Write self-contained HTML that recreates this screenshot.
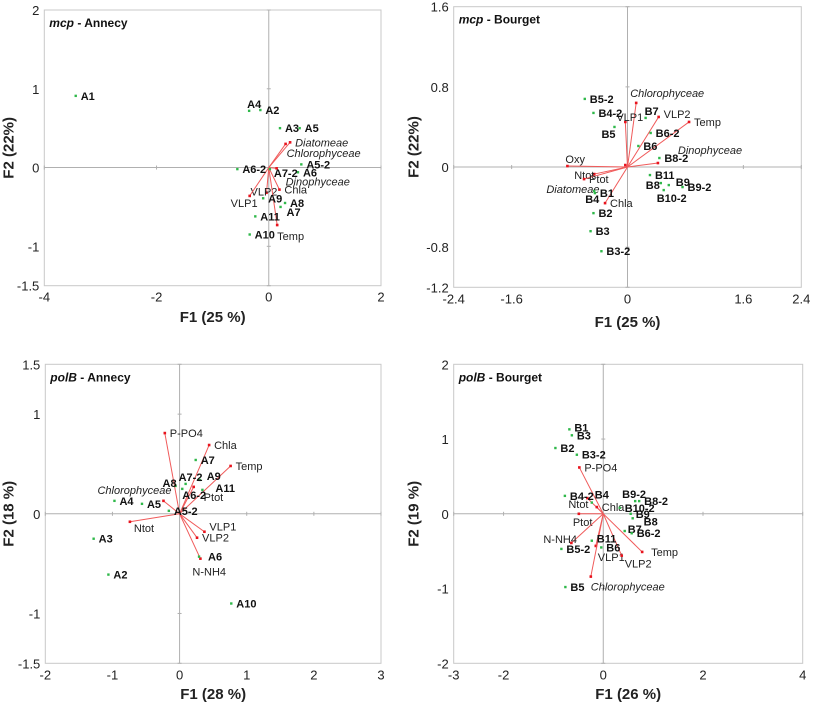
<!DOCTYPE html>
<html><head><meta charset="utf-8"><style>
html,body{margin:0;padding:0;background:#fff;}
svg{display:block;font-family:"Liberation Sans",sans-serif;}
</style></head><body>
<svg id="chart" width="813" height="704" viewBox="0 0 813 704" xmlns="http://www.w3.org/2000/svg"></svg>
<script>
// ---- Panel 1: mcp - Annecy ----
const p1SampleNames = ["A1","A4","A2","A3","A5","A5-2","A6","A6-2","A7-2","A9","A8","A7","A11","A10"];
const p1SampleX = [-3.44,-0.35,-0.15,0.2,0.55,0.58,0.52,-0.56,0.02,-0.1,0.29,0.21,-0.24,-0.34];
const p1SampleY = [0.91,0.72,0.73,0.5,0.5,0.04,-0.06,-0.02,-0.02,-0.39,-0.45,-0.5,-0.62,-0.85];
const p1VarNames = ["Diatomeae","Chlorophyceae","Dinophyceae","Chla","VLP2","VLP1","Temp"];
const p1VarX = [0.38,0.3,0.14,0.19,-0.04,-0.34,0.15];
const p1VarY = [0.32,0.3,-0.01,-0.28,-0.32,-0.36,-0.73];
const p1XTicks = [-4,-2,0,2];
const p1YTicks = [-1.5,-1,0,1,2];
const p1XTickLabels = ["-4","-2","0","2"];
const p1YTickLabels = ["-1.5","-1","0","1","2"];

// ---- Panel 2: mcp - Bourget ----
const p2SampleNames = ["B5-2","B4-2","B5","B7","B6-2","B6","B8-2","B11","B8","B9","B9-2","B10-2","B1","B4","B2","B3","B3-2"];
const p2SampleX = [-0.59,-0.47,-0.18,0.25,0.32,0.15,0.44,0.31,0.46,0.57,0.76,0.5,-0.45,-0.46,-0.47,-0.51,-0.36];
const p2SampleY = [0.68,0.54,0.4,0.49,0.34,0.21,0.09,-0.08,-0.16,-0.18,-0.2,-0.23,-0.26,-0.24,-0.46,-0.64,-0.84];
const p2VarNames = ["Chlorophyceae","VLP1","VLP2","Temp","Dinophyceae","Oxy","Ntot","Ptot","Diatomeae","Chla"];
const p2VarX = [0.12,-0.03,0.43,0.85,0.42,-0.83,-0.46,-0.6,-0.03,-0.31];
const p2VarY = [0.64,0.45,0.5,0.45,0.04,0.01,-0.07,-0.12,0.02,-0.36];
const p2XTicks = [-2.4,-1.6,0,1.6,2.4];
const p2YTicks = [-1.2,-0.8,0,0.8,1.6];
const p2XTickLabels = ["-2.4","-1.6","0","1.6","2.4"];
const p2YTickLabels = ["-1.2","-0.8","0","0.8","1.6"];

// ---- Panel 3: polB - Annecy ----
const p3SampleNames = ["A7","A9","A8","A7-2","A6-2","A11","A4","A5","A5-2","A3","A2","A6","A10"];
const p3SampleX = [0.24,0.3,-0.06,0.09,0.04,0.34,-0.97,-0.56,-0.16,-1.28,-1.06,0.29,0.77];
const p3SampleY = [0.54,0.34,0.28,0.3,0.25,0.24,0.13,0.1,0.03,-0.25,-0.61,-0.43,-0.9];
const p3VarNames = ["P-PO4","Chla","Temp","Ptot","Chlorophyceae","Ntot","VLP1","VLP2","N-NH4"];
const p3VarX = [-0.22,0.44,0.76,0.21,-0.24,-0.74,0.37,0.26,0.31];
const p3VarY = [0.81,0.69,0.48,0.27,0.13,-0.08,-0.18,-0.24,-0.45];
const p3XTicks = [-2,-1,0,1,2,3];
const p3YTicks = [-1.5,-1,0,1,1.5];
const p3XTickLabels = ["-2","-1","0","1","2","3"];
const p3YTickLabels = ["-1.5","-1","0","1","1.5"];

// ---- Panel 4: polB - Bourget ----
const p4SampleNames = ["B1","B3","B2","B3-2","B4-2","B4","B9-2","B8-2","B10-2","B9","B8","B7","B6-2","B11","B6","B5-2","B5"];
const p4SampleX = [-0.68,-0.63,-0.96,-0.53,-0.77,-0.23,0.64,0.72,0.33,0.55,0.59,0.43,0.57,-0.23,-0.04,-0.84,-0.76];
const p4SampleY = [1.13,1.05,0.88,0.79,0.24,0.15,0.17,0.17,0.08,0.0,-0.06,-0.23,-0.26,-0.36,-0.45,-0.47,-0.98];
const p4VarNames = ["P-PO4","Ntot","Chla","Ptot","N-NH4","VLP1","VLP2","Temp","Chlorophyceae"];
const p4VarX = [-0.48,-0.32,-0.13,-0.49,-0.64,-0.15,0.37,0.78,-0.25];
const p4VarY = [0.62,0.21,0.09,0.0,-0.39,-0.43,-0.56,-0.51,-0.84];
const p4XTicks = [-3,-2,0,2,4];
const p4YTicks = [-2,-1,0,1,2];
const p4XTickLabels = ["-3","-2","0","2","4"];
const p4YTickLabels = ["-2","-1","0","1","2"];

// Layout / label offsets (styling, not data)
const panels = [
 {id:"mcp-annecy", t1:"mcp", t2:" - Annecy", xt:"F1 (25 %)", yt:"F2 (22%)", L:44.3,R:381,T:10,B:285.7, xmin:-4,xmax:2,ymin:-1.5,ymax:2,
  sn:p1SampleNames,sx:p1SampleX,sy:p1SampleY,vn:p1VarNames,vx:p1VarX,vy:p1VarY,xt_:p1XTicks,yt_:p1YTicks,xl:p1XTickLabels,yl:p1YTickLabels, ytx:9, xty:322,
  off:{"A4":[-2,-3],"Chlorophyceae":[1,13],"Dinophyceae":[9,17],"VLP2":[-16,3],"VLP1":[-19,11],"Temp":[0,15],"A7-2":[4,8],"A7":[6,9]}},
 {id:"mcp-bourget", t1:"mcp", t2:" - Bourget", xt:"F1 (25 %)", yt:"F2 (22%)", L:453.7,R:801.3,T:6.7,B:287.3, xmin:-2.4,xmax:2.4,ymin:-1.2,ymax:1.6,
  sn:p2SampleNames,sx:p2SampleX,sy:p2SampleY,vn:p2VarNames,vx:p2VarX,vy:p2VarY,xt_:p2XTicks,yt_:p2YTicks,xl:p2XTickLabels,yl:p2YTickLabels, ytx:414, xty:327,
  off:{"B5":[-13,11],"B7":[-1,-3],"B8":[-15,6],"B9":[7,1],"B10-2":[-7,12],"B4":[-9,12],"Chlorophyceae":[-6,-6],"VLP1":[-9,-1],"VLP2":[5,1],"Dinophyceae":[20,-9],"Oxy":[-2,-3],"Ntot":[-20,5],"Diatomeae":[-79,28]}},
 {id:"polb-annecy", t1:"polB", t2:" - Annecy", xt:"F1 (28 %)", yt:"F2 (18 %)", L:45.3,R:381,T:364.3,B:663.3, xmin:-2,xmax:3,ymin:-1.5,ymax:1.5,
  sn:p3SampleNames,sx:p3SampleX,sy:p3SampleY,vn:p3VarNames,vx:p3VarX,vy:p3VarY,xt_:p3XTicks,yt_:p3YTicks,xl:p3XTickLabels,yl:p3YTickLabels, ytx:9, xty:699,
  off:{"A8":[-13,1],"A7-2":[-7,-3],"A6-2":[0,10],"A9":[7,0],"A11":[13,2],"A6":[9,4],"Ptot":[10,14],"Chlorophyceae":[-66,-7],"Ntot":[4,10],"VLP1":[5,-1],"N-NH4":[-8,17]}},
 {id:"polb-bourget", t1:"polB", t2:" - Bourget", xt:"F1 (26 %)", yt:"F2 (19 %)", L:453.7,R:802.7,T:364.3,B:663.3, xmin:-3,xmax:4,ymin:-2,ymax:2,
  sn:p4SampleNames,sx:p4SampleX,sy:p4SampleY,vn:p4VarNames,vx:p4VarX,vy:p4VarY,xt_:p4XTicks,yt_:p4YTicks,xl:p4XTickLabels,yl:p4YTickLabels, ytx:414, xty:699,
  off:{"B1":[5,2],"B4":[3,-4],"B9-2":[-13,-3],"B8":[11,7],"B7":[3,2],"B11":[5,2],"Ntot":[-19,10],"Ptot":[-6,12],"N-NH4":[-28,0],"VLP1":[2,15],"VLP2":[3,12],"Temp":[9,4],"Chlorophyceae":[0,14]}}
];

const svg = document.getElementById('chart');
const NS = "http://www.w3.org/2000/svg";
function mk(tag, attrs, parent){const e=document.createElementNS(NS,tag);for(const k in attrs)e.setAttribute(k,attrs[k]);parent.appendChild(e);return e;}

panels.forEach(p=>{
  const g = mk('g',{},svg);
  
  
  const sx = v => p.L + (v-p.xmin)/(p.xmax-p.xmin)*(p.R-p.L);
  const sy = v => p.B - (v-p.ymin)/(p.ymax-p.ymin)*(p.B-p.T);
  const fr = mk('rect',{x:p.L,y:p.T,width:p.R-p.L,height:p.B-p.T,fill:'none',stroke:'#c8c8c8','stroke-width':1},g);
  
  
  const x0 = sx(0), y0 = sy(0);
  const ax = mk('line',{x1:p.L,x2:p.R,y1:y0,y2:y0,stroke:'#b0b0b0','stroke-width':1},g);
  
  
  const ay = mk('line',{x1:x0,x2:x0,y1:p.T,y2:p.B,stroke:'#b0b0b0','stroke-width':1},g);
  
  
  // tick labels
  p.xt_.forEach((v,i)=>{
    const t = mk('text',{x:sx(v),y:p.B+16,'font-size':13,'text-anchor':'middle',fill:'#222'},g);
    t.textContent = p.xl[i];
    
    
    mk('line',{x1:sx(v),x2:sx(v),y1:y0-2,y2:y0+2,stroke:'#b0b0b0'},g);
  });
  p.yt_.forEach((v,i)=>{
    const t = mk('text',{x:p.L-5,y:sy(v)+5,'font-size':13,'text-anchor':'end',fill:'#222'},g);
    t.textContent = p.yl[i];
    
    
    mk('line',{x1:x0-2,x2:x0+2,y1:sy(v),y2:sy(v),stroke:'#b0b0b0'},g);
  });
  // axis titles
  const xt = mk('text',{x:(p.L+p.R)/2,y:p.xty,'font-size':15,'font-weight':'bold','text-anchor':'middle',fill:'#222'},g);
  xt.textContent = p.xt;
  
  
  const ym = (p.T+p.B)/2;
  const yt = mk('text',{x:p.ytx,y:ym,'font-size':15,'font-weight':'bold','text-anchor':'middle','dominant-baseline':'central',transform:`rotate(-90 ${p.ytx} ${ym})`,fill:'#222'},g);
  yt.textContent = p.yt;
  
  
  // panel title
  const tt = mk('text',{x:p.L+5,y:p.T+17,'font-size':12,'font-weight':'bold',fill:'#111'},g);
  
  
  const ts1 = mk('tspan',{'font-style':'italic'},tt); ts1.textContent = p.t1;
  const ts2 = mk('tspan',{},tt); ts2.textContent = p.t2;
  // variable vectors
  p.vn.forEach((n,i)=>{
    const ex = sx(p.vx[i]), ey = sy(p.vy[i]);
    const l = mk('line',{x1:x0,y1:y0,x2:ex,y2:ey,stroke:'#f05a5a','stroke-width':1},g);
    
    
    const d = mk('rect',{x:ex-1.3,y:ey-1.3,width:2.6,height:2.6,fill:'#e8141e'},g);
    
    
    const o = p.off[n] || [5,4];
    const italic = /phyceae|omeae/.test(n);
    const t = mk('text',{x:ex+o[0],y:ey+o[1],'font-size':11,fill:'#222','font-style':italic?'italic':'normal'},g);
    t.textContent = n;
    
    
  });
  // samples
  p.sn.forEach((n,i)=>{
    const px = sx(p.sx[i]), py = sy(p.sy[i]);
    const c = mk('rect',{x:px-1.2,y:py-1.2,width:2.4,height:2.4,fill:'#2fb84a'},g);
    
    
    const o = p.off[n] || [5,4];
    const t = mk('text',{x:px+o[0],y:py+o[1],'font-size':11,'font-weight':'bold',fill:'#111'},g);
    t.textContent = n;
    
    
  });
});
</script>
</body></html>
